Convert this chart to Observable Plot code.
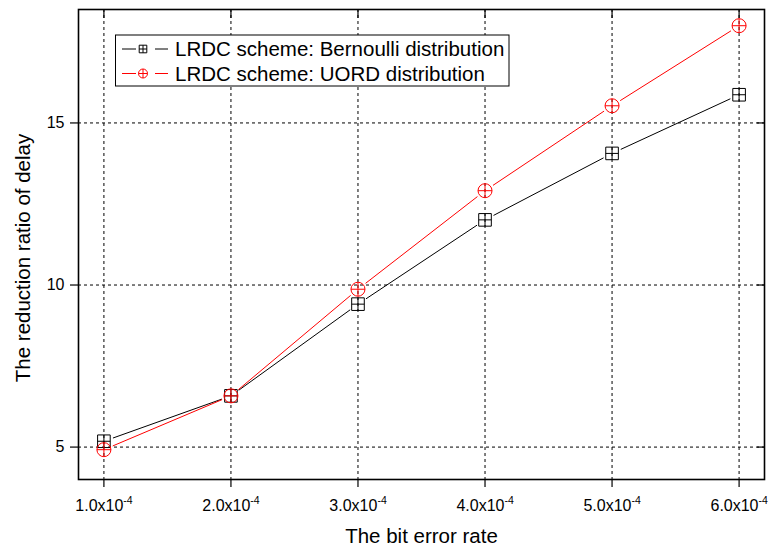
<!DOCTYPE html>
<html>
<head>
<meta charset="utf-8">
<script src="https://cdn.jsdelivr.net/npm/d3@7"></script>
<script src="https://cdn.jsdelivr.net/npm/@observablehq/plot@0.6"></script>
<style>
  html, body { margin: 0; padding: 0; background: #fff; }
  #chart svg { display: block; }
</style>
</head>
<body>
<div id="chart"></div>
<script>
// ---- data ----
const bitErrorRates = [1e-4, 2e-4, 3e-4, 4e-4, 5e-4, 6e-4];
const bernoulli = [5.18, 6.58, 9.41, 12.01, 14.06, 15.87];
const uord = [4.92, 6.58, 9.87, 12.91, 15.53, 18.0];
const seriesNames = ["LRDC scheme: Bernoulli distribution", "LRDC scheme: UORD distribution"];
const seriesColors = ["#000000", "#ff0000"];
const xTickMantissas = ["1.0", "2.0", "3.0", "4.0", "5.0", "6.0"];
const xTickExponent = "-4";
const yTicks = [5, 10, 15];
const xLabel = "The bit error rate";
const yLabel = "The reduction ratio of delay";

// ---- table ----
const rows = [];
bitErrorRates.forEach((x, i) => {
  rows.push({series: seriesNames[0], x, y: bernoulli[i], k: 0});
  rows.push({series: seriesNames[1], x, y: uord[i], k: 1});
});
const segs = [];
[bernoulli, uord].forEach((vals, k) => {
  for (let i = 0; i < vals.length - 1; i++) {
    segs.push({k, x1: bitErrorRates[i], y1: vals[i], x2: bitErrorRates[i + 1], y2: vals[i + 1]});
  }
});
const xTickRows = bitErrorRates.map((x, i) => ({x, base: xTickMantissas[i] + "x10", exp: xTickExponent}));

// custom symbols
const squarePlus = {
  draw(ctx, size) {
    const h = Math.sqrt(size / Math.PI);
    ctx.moveTo(-h, -h); ctx.lineTo(h, -h); ctx.lineTo(h, h); ctx.lineTo(-h, h); ctx.closePath();
    ctx.moveTo(-h, 0); ctx.lineTo(h, 0);
    ctx.moveTo(0, -h); ctx.lineTo(0, h);
  }
};
const circlePlus = {
  draw(ctx, size) {
    const r = Math.sqrt(size / Math.PI);
    ctx.moveTo(r, 0); ctx.arc(0, 0, r, 0, 2 * Math.PI);
    ctx.moveTo(-r, 0); ctx.lineTo(r, 0);
    ctx.moveTo(0, -r); ctx.lineTo(0, r);
  }
};

const font = "'Liberation Sans', Arial, Helvetica, sans-serif";

const plot = Plot.plot({
  width: 771,
  height: 549,
  marginTop: 9,
  marginRight: 7,
  marginBottom: 70,
  marginLeft: 78,
  style: {fontFamily: font, background: "#fff", color: "#000"},
  x: {domain: [0.8e-4, 6.2e-4]},
  y: {domain: [4, 18.5]},
  marks: [
    Plot.gridX(bitErrorRates, {stroke: "#000", strokeOpacity: 1, strokeWidth: 1, strokeDasharray: "3,3"}),
    Plot.gridY(yTicks, {stroke: "#000", strokeOpacity: 1, strokeWidth: 1, strokeDasharray: "3,3"}),
    Plot.axisX(bitErrorRates, {anchor: "bottom", tickSize: 8, text: null, label: null, stroke: "#000", strokeWidth: 1.2}),
    Plot.axisX(bitErrorRates, {anchor: "top", tickSize: 8, dy: 8, text: null, label: null, stroke: "#000", strokeWidth: 1.2}),
    Plot.axisY(yTicks, {anchor: "left", tickSize: 8, tickPadding: 6, fontSize: 16, label: null, stroke: "#000", strokeWidth: 1.2}),
    Plot.axisY(yTicks, {anchor: "right", tickSize: 8, dx: -8, text: null, label: null, stroke: "#000", strokeWidth: 1.2}),
    // x tick labels: mantissa and superscript exponent
    Plot.text(xTickRows, {x: "x", text: "base", frameAnchor: "bottom", lineAnchor: "bottom", dy: 31.5, dx: -4.6, fontSize: 16, textAnchor: "middle", fill: "#000"}),
    Plot.text(xTickRows, {x: "x", text: "exp", frameAnchor: "bottom", lineAnchor: "bottom", dy: 24.5, dx: 19.4, fontSize: 10.5, textAnchor: "start", fill: "#000"}),
    Plot.arrow(segs, {x1: "x1", y1: "y1", x2: "x2", y2: "y2", stroke: d => seriesColors[d.k], headLength: 0, insetStart: 10, insetEnd: 10, strokeWidth: 1}),
    Plot.dot(rows.filter(d => d.k === 0), {x: "x", y: "y", symbol: squarePlus, r: 6.3, fill: "none", stroke: seriesColors[0], strokeWidth: 1}),
    Plot.dot(rows.filter(d => d.k === 1), {x: "x", y: "y", symbol: circlePlus, r: 7, fill: "none", stroke: seriesColors[1], strokeWidth: 1}),
    Plot.frame({stroke: "#000", strokeWidth: 1.6})
  ]
});

const svg = d3.select(plot);
// axis labels
svg.append("text")
  .attr("x", 421.5).attr("y", 543)
  .attr("text-anchor", "middle")
  .attr("font-family", font).style("font-size", "20.5px").attr("fill", "#000")
  .text(xLabel);
svg.append("text")
  .attr("transform", "translate(30,258) rotate(-90)")
  .attr("text-anchor", "middle")
  .attr("font-family", font).style("font-size", "20.5px").attr("fill", "#000")
  .text(yLabel);

// legend
const lg = svg.append("g").attr("aria-label", "legend").attr("text-anchor", "start");
lg.append("rect").attr("x", 115.5).attr("y", 35).attr("width", 393.5).attr("height", 51)
  .attr("fill", "#fff").attr("stroke", "#000").attr("stroke-width", 1);
const legendSymbols = [squarePlus, circlePlus];
const legendR = [3.8, 4.5];
seriesNames.forEach((name, k) => {
  const cy = 49 + k * 24.5;
  const c = seriesColors[k];
  lg.append("line").attr("x1", 122).attr("x2", 136).attr("y1", cy).attr("y2", cy).attr("stroke", c).attr("stroke-width", 1);
  lg.append("line").attr("x1", 155).attr("x2", 168).attr("y1", cy).attr("y2", cy).attr("stroke", c).attr("stroke-width", 1);
  const r = legendR[k];
  lg.append("path")
    .attr("transform", `translate(143,${cy})`)
    .attr("d", d3.symbol(legendSymbols[k], r * r * Math.PI)())
    .attr("fill", "none").attr("stroke", c).attr("stroke-width", 1);
  lg.append("text").attr("x", 175).attr("y", cy + 7.3)
    .attr("text-anchor", "start")
    .attr("font-family", font).style("font-size", "20.5px").attr("fill", "#000")
    .text(name);
});

document.getElementById("chart").appendChild(plot);
</script>
</body>
</html>
